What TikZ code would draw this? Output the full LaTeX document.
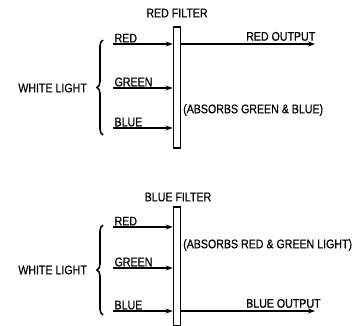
\documentclass[tikz,border=0pt]{standalone}
\usepackage{fontspec}
\setmainfont[FakeStretch=0.85,FakeBold=0.6]{Liberation Sans}
\usetikzlibrary{arrows.meta,positioning,decorations.pathreplacing}

\tikzset{
  lbl/.style={font=\fontsize{12.5}{14}\selectfont,inner sep=1pt},
  filterbar/.style={rectangle,draw,line width=1.6pt,fill=white,minimum width=7pt,inner sep=0pt},
  ray/.style={line width=1.2pt,-{Stealth[length=7pt,width=5pt]}},
  bracket/.style={line width=1.6pt,decorate,decoration={brace,amplitude=6pt}}
}

\begin{document}
\begin{tikzpicture}[x=1pt,y=1pt]
\useasboundingbox (0,0) rectangle (352,325);

% Red filter
\node[lbl] (rtitle) at (177,312) {RED FILTER};
\node[filterbar,minimum height=121pt] (rf) at (177,237.5) {};
\coordinate (rr) at (113,281);
\coordinate (rg) at (113,237);
\coordinate (rb) at (113,197);
\coordinate (rout) at (315,281);
\draw[ray] (rr) -- (rr -| rf.west) node[lbl,pos=0,above right] (rrl) {RED};
\draw[ray] (rg) -- (rg -| rf.west) node[lbl,pos=0,above right] (rgl) {GREEN};
\draw[ray] (rb) -- (rb -| rf.west) node[lbl,pos=0,above right] (rbl) {BLUE};
\draw[ray] (rr -| rf.east) -- (rout);
\node[lbl,anchor=south west] (routl) at (245,283) {RED OUTPUT};
\draw[bracket] (103,190) -- (103,285);
\node[lbl,anchor=east] (rwhite) at (88,237) {WHITE LIGHT};
\node[lbl,anchor=west] (rabs) at (182,215) {(ABSORBS GREEN \& BLUE)};

% Blue filter
\node[lbl] (btitle) at (178,128) {BLUE FILTER};
\node[filterbar,minimum height=119pt] (bf) at (177,58.5) {};
\coordinate (br) at (113,98);
\coordinate (bg) at (113,57);
\coordinate (bb) at (113,14);
\coordinate (bout) at (315,14);
\draw[ray] (br) -- (br -| bf.west) node[lbl,pos=0,above right] (brl) {RED};
\draw[ray] (bg) -- (bg -| bf.west) node[lbl,pos=0,above right] (bgl) {GREEN};
\draw[ray] (bb) -- (bb -| bf.west) node[lbl,pos=0,above right] (bbl) {BLUE};
\draw[ray] (bb -| bf.east) -- (bout);
\node[lbl,anchor=south west] (boutl) at (245,16) {BLUE OUTPUT};
\draw[bracket] (103,10) -- (103,100);
\node[lbl,anchor=east] (bwhite) at (88,55) {WHITE LIGHT};
\node[lbl,anchor=west] (babs) at (182,80) {(ABSORBS RED \& GREEN LIGHT)};
\end{tikzpicture}
\end{document}
